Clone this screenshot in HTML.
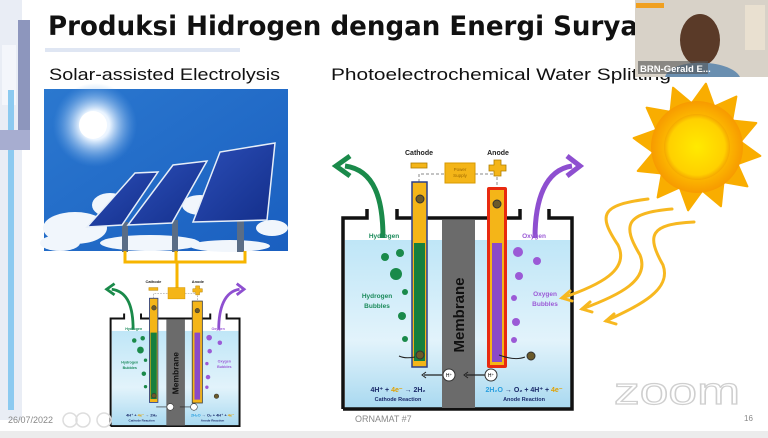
<!DOCTYPE html>
<html><head><meta charset="utf-8"><style>
html,body{margin:0;padding:0;background:#fff;}
svg{display:block;font-family:"Liberation Sans",sans-serif;}
</style></head><body>
<svg width="768" height="438" viewBox="0 0 768 438" xmlns="http://www.w3.org/2000/svg">
<defs>
<linearGradient id="water" x1="0" y1="0" x2="0" y2="1"><stop offset="0" stop-color="#bfe6f7"/><stop offset="0.6" stop-color="#e2f3fb"/><stop offset="1" stop-color="#a9d9f0"/></linearGradient>
<linearGradient id="sky" x1="0" y1="0" x2="1" y2="1"><stop offset="0" stop-color="#2b78cf"/><stop offset="1" stop-color="#1a5fc0"/></linearGradient>
<radialGradient id="sunglow" cx="0.5" cy="0.5" r="0.5"><stop offset="0" stop-color="#fff"/><stop offset="0.35" stop-color="#eaf4ff"/><stop offset="1" stop-color="#6aa6e6" stop-opacity="0"/></radialGradient>
<radialGradient id="suncore" cx="0.5" cy="0.5" r="0.5"><stop offset="0" stop-color="#ffea00"/><stop offset="0.85" stop-color="#ffd000"/><stop offset="1" stop-color="#f5a800"/></radialGradient>
<radialGradient id="sunbody" cx="0.5" cy="0.5" r="0.5"><stop offset="0.5" stop-color="#ffc800"/><stop offset="1" stop-color="#f79a00"/></radialGradient>
<linearGradient id="panel" x1="0" y1="0" x2="1" y2="1"><stop offset="0" stop-color="#2c4fb8"/><stop offset="1" stop-color="#132e8a"/></linearGradient>
</defs>

<!-- left decoration -->
<rect x="0" y="0" width="22" height="420" fill="#e9edf5"/>
<rect x="18" y="20" width="12" height="120" fill="#8d96bd"/>
<rect x="2" y="45" width="14" height="60" fill="#f4f6fb"/>
<rect x="8" y="90" width="6" height="320" fill="#8ccaf0"/>
<rect x="0" y="130" width="30" height="20" fill="#a7add0"/>

<!-- title -->
<text x="48" y="35" font-size="27" font-weight="bold" fill="#111" font-family="'DejaVu Sans','Liberation Sans',sans-serif" textLength="590" lengthAdjust="spacingAndGlyphs">Produksi Hidrogen dengan Energi Surya</text>
<rect x="45" y="48" width="195" height="4" fill="#dfe6f3"/>
<text x="49" y="80" font-size="17" fill="#111" textLength="231" lengthAdjust="spacingAndGlyphs">Solar-assisted Electrolysis</text>
<text x="331" y="80" font-size="17" fill="#111" textLength="340" lengthAdjust="spacingAndGlyphs">Photoelectrochemical Water Splitting</text>

<!-- solar image -->
<rect x="44" y="89" width="244" height="162" fill="url(#sky)"/>
<circle cx="95" cy="125" r="42" fill="url(#sunglow)"/>
<circle cx="93" cy="125" r="14" fill="#fff"/>
<g fill="#f1f6fc">
<ellipse cx="75" cy="228" rx="32" ry="16"/><ellipse cx="110" cy="205" rx="18" ry="12"/>
<ellipse cx="60" cy="243" rx="20" ry="8"/><ellipse cx="150" cy="243" rx="50" ry="8"/>
<ellipse cx="200" cy="205" rx="18" ry="10"/><ellipse cx="272" cy="228" rx="16" ry="8"/>
<ellipse cx="230" cy="246" rx="40" ry="6"/>
</g>
<g fill="#5a6d86"><rect x="122" y="222" width="6" height="30"/><rect x="172" y="220" width="6" height="32"/><rect x="237" y="218" width="7" height="34"/></g>
<polygon points="87,227 122,225 158,172 135,173" fill="url(#panel)" stroke="#e6eef8" stroke-width="1.5"/>
<polygon points="128,225 172,223 207,161 173,165" fill="url(#panel)" stroke="#e6eef8" stroke-width="1.5"/>
<polygon points="193,222 267,220 275,143 220,152" fill="url(#panel)" stroke="#e6eef8" stroke-width="1.5"/>

<!-- wires -->
<g stroke="#f7b500" stroke-width="3" fill="none">
<path d="M125 251 V262 H245 V251"/><path d="M176 251 V262"/><path d="M177 262 V293"/>
</g>

<!-- BIG CELL -->
<g>
<rect x="345" y="240" width="226" height="168" fill="url(#water)"/>
<path d="M343 409 V218 H367 V209 M397 209 V218 H520 V209 M549 209 V218 H572 V409 H343" stroke="#111" stroke-width="3.5" fill="none"/>
<rect x="442" y="220" width="33" height="188" fill="#6b6b6b"/>
<text transform="translate(464 315) rotate(-90)" text-anchor="middle" font-size="15" font-weight="bold" fill="#111">Membrane</text>
<path d="M383 238 C383 200 375 170 345 166" stroke="#1a8a4a" stroke-width="5" fill="none"/>
<path d="M350 156 L336 166 L350 176" stroke="#1a8a4a" stroke-width="5" fill="none"/>
<path d="M535 238 C535 200 545 170 572 166" stroke="#8e4fd0" stroke-width="5" fill="none"/>
<path d="M567 156 L580 166 L567 176" stroke="#8e4fd0" stroke-width="5" fill="none"/>
<path d="M419 182 V174 H445 M475 174 H497 V187" stroke="#888" stroke-width="1" stroke-dasharray="3,2" fill="none"/>
<rect x="445" y="163" width="30" height="20" fill="#f4b518" stroke="#d99a00"/>
<text x="460" y="171" font-size="4.5" fill="#a06a00" text-anchor="middle">Power</text>
<text x="460" y="177" font-size="4.5" fill="#a06a00" text-anchor="middle">Supply</text>
<text x="419" y="155" font-size="7" font-weight="bold" fill="#222" text-anchor="middle">Cathode</text>
<text x="498" y="155" font-size="7" font-weight="bold" fill="#222" text-anchor="middle">Anode</text>
<rect x="411" y="163" width="16" height="5" fill="#f4b518" stroke="#b07e00" stroke-width="0.8"/>
<path d="M494 160 h7 v5 h5 v6 h-5 v5 h-7 v-5 h-5 v-6 h5z" fill="#f4b518" stroke="#b07e00" stroke-width="0.8"/>
<rect x="412" y="182" width="15" height="185" fill="#f4b518" stroke="#2a3f8a" stroke-width="1.5"/>
<rect x="414" y="243" width="11" height="118" fill="#167f3e"/>
<rect x="487" y="187" width="20" height="181" rx="2" fill="#e82a10"/>
<rect x="490" y="190" width="14" height="175" fill="#f4b518"/>
<rect x="492" y="243" width="10" height="119" fill="#8a4ac8"/>
<circle cx="420" cy="199" r="4" fill="#6b5a2a" stroke="#333"/><circle cx="420" cy="355" r="4" fill="#6b5a2a" stroke="#333"/>
<circle cx="497" cy="204" r="4" fill="#6b5a2a" stroke="#333"/><circle cx="531" cy="356" r="4" fill="#6b5a2a" stroke="#333"/>
<path d="M415 357 q-10 2 -16 -1 M525 357 q-10 4 -26 -2" stroke="#222" fill="none"/>
<text x="384" y="238" font-size="6.5" font-weight="bold" fill="#1a8a5a" text-anchor="middle">Hydrogen</text>
<text x="534" y="238" font-size="6.5" font-weight="bold" fill="#9b5ad6" text-anchor="middle">Oxygen</text>
<text x="377" y="298" font-size="6.5" font-weight="bold" fill="#1a8a5a" text-anchor="middle">Hydrogen</text>
<text x="377" y="308" font-size="6.5" font-weight="bold" fill="#1a8a5a" text-anchor="middle">Bubbles</text>
<text x="545" y="296" font-size="6.5" font-weight="bold" fill="#9b5ad6" text-anchor="middle">Oxygen</text>
<text x="545" y="306" font-size="6.5" font-weight="bold" fill="#9b5ad6" text-anchor="middle">Bubbles</text>
<g fill="#1a8a4a"><circle cx="385" cy="257" r="4"/><circle cx="400" cy="253" r="4"/><circle cx="396" cy="274" r="6"/><circle cx="405" cy="292" r="3"/><circle cx="402" cy="316" r="4"/><circle cx="405" cy="339" r="3"/></g>
<g fill="#9b5ad6"><circle cx="518" cy="252" r="5"/><circle cx="537" cy="261" r="4"/><circle cx="519" cy="276" r="4"/><circle cx="514" cy="298" r="3"/><circle cx="516" cy="322" r="4"/><circle cx="514" cy="340" r="3"/></g>
<path d="M485 375 H466 M442 375 H424" stroke="#222" stroke-width="1.2"/>
<path d="M468 372 l-4 3 l4 3 M426 372 l-4 3 l4 3" stroke="#222" fill="none"/>
<circle cx="449" cy="375" r="6" fill="#fff" stroke="#333"/><circle cx="491" cy="375" r="6" fill="#fff" stroke="#333"/>
<text x="449" y="377" font-size="5" text-anchor="middle">H⁺</text><text x="491" y="377" font-size="5" text-anchor="middle">H⁺</text>
<text x="398" y="392" font-size="7" font-weight="bold" fill="#1a2a6a" text-anchor="middle">4H⁺ + <tspan fill="#e0a000">4e⁻</tspan> → 2H₂</text>
<text x="398" y="401" font-size="5.5" font-weight="bold" fill="#1a2a6a" text-anchor="middle">Cathode Reaction</text>
<text x="524" y="392" font-size="7" font-weight="bold" fill="#1a2a6a" text-anchor="middle"><tspan fill="#2aa0e0">2H₂O</tspan> → O₂ + 4H⁺ + <tspan fill="#e0a000">4e⁻</tspan></text>
<text x="524" y="401" font-size="5.5" font-weight="bold" fill="#1a2a6a" text-anchor="middle">Anode Reaction</text>
</g>

<!-- SMALL CELL (scaled copy) -->
<g transform="translate(-82.5 195.8) scale(0.563)">
<rect x="345" y="240" width="226" height="168" fill="url(#water)"/>
<path d="M343 409 V218 H367 V209 M397 209 V218 H520 V209 M549 209 V218 H572 V409 H343" stroke="#111" stroke-width="3.5" fill="none"/>
<rect x="442" y="220" width="33" height="188" fill="#6b6b6b"/>
<text transform="translate(464 315) rotate(-90)" text-anchor="middle" font-size="15" font-weight="bold" fill="#111">Membrane</text>
<path d="M383 238 C383 200 375 170 345 166" stroke="#1a8a4a" stroke-width="5" fill="none"/>
<path d="M350 156 L336 166 L350 176" stroke="#1a8a4a" stroke-width="5" fill="none"/>
<path d="M535 238 C535 200 545 170 572 166" stroke="#8e4fd0" stroke-width="5" fill="none"/>
<path d="M567 156 L580 166 L567 176" stroke="#8e4fd0" stroke-width="5" fill="none"/>
<path d="M419 182 V174 H445 M475 174 H497 V187" stroke="#888" stroke-width="1" stroke-dasharray="3,2" fill="none"/>
<rect x="445" y="163" width="30" height="20" fill="#f4b518" stroke="#d99a00"/>
<text x="419" y="155" font-size="7" font-weight="bold" fill="#222" text-anchor="middle">Cathode</text>
<text x="498" y="155" font-size="7" font-weight="bold" fill="#222" text-anchor="middle">Anode</text>
<rect x="411" y="163" width="16" height="5" fill="#f4b518" stroke="#b07e00" stroke-width="0.8"/>
<path d="M494 160 h7 v5 h5 v6 h-5 v5 h-7 v-5 h-5 v-6 h5z" fill="#f4b518" stroke="#b07e00" stroke-width="0.8"/>
<rect x="412" y="182" width="15" height="185" fill="#f4b518" stroke="#2a3f8a" stroke-width="1.5"/>
<rect x="414" y="243" width="11" height="118" fill="#167f3e"/>
<rect x="488" y="187" width="18" height="181" fill="#f4b518" stroke="#444" stroke-width="1.5"/>
<rect x="492" y="243" width="10" height="119" fill="#8a4ac8"/>
<circle cx="420" cy="199" r="4" fill="#6b5a2a" stroke="#333"/><circle cx="420" cy="355" r="4" fill="#6b5a2a" stroke="#333"/>
<circle cx="497" cy="204" r="4" fill="#6b5a2a" stroke="#333"/><circle cx="531" cy="356" r="4" fill="#6b5a2a" stroke="#333"/>
<text x="384" y="238" font-size="6.5" font-weight="bold" fill="#1a8a5a" text-anchor="middle">Hydrogen</text>
<text x="534" y="238" font-size="6.5" font-weight="bold" fill="#9b5ad6" text-anchor="middle">Oxygen</text>
<text x="377" y="298" font-size="6.5" font-weight="bold" fill="#1a8a5a" text-anchor="middle">Hydrogen</text>
<text x="377" y="308" font-size="6.5" font-weight="bold" fill="#1a8a5a" text-anchor="middle">Bubbles</text>
<text x="545" y="296" font-size="6.5" font-weight="bold" fill="#9b5ad6" text-anchor="middle">Oxygen</text>
<text x="545" y="306" font-size="6.5" font-weight="bold" fill="#9b5ad6" text-anchor="middle">Bubbles</text>
<g fill="#1a8a4a"><circle cx="385" cy="257" r="4"/><circle cx="400" cy="253" r="4"/><circle cx="396" cy="274" r="6"/><circle cx="405" cy="292" r="3"/><circle cx="402" cy="316" r="4"/><circle cx="405" cy="339" r="3"/></g>
<g fill="#9b5ad6"><circle cx="518" cy="252" r="5"/><circle cx="537" cy="261" r="4"/><circle cx="519" cy="276" r="4"/><circle cx="514" cy="298" r="3"/><circle cx="516" cy="322" r="4"/><circle cx="514" cy="340" r="3"/></g>
<path d="M485 375 H466 M442 375 H424" stroke="#222" stroke-width="1.2"/>
<circle cx="449" cy="375" r="6" fill="#fff" stroke="#333"/><circle cx="491" cy="375" r="6" fill="#fff" stroke="#333"/>
<text x="398" y="392" font-size="7" font-weight="bold" fill="#1a2a6a" text-anchor="middle">4H⁺ + <tspan fill="#e0a000">4e⁻</tspan> → 2H₂</text>
<text x="398" y="401" font-size="5.5" font-weight="bold" fill="#1a2a6a" text-anchor="middle">Cathode Reaction</text>
<text x="524" y="392" font-size="7" font-weight="bold" fill="#1a2a6a" text-anchor="middle"><tspan fill="#2aa0e0">2H₂O</tspan> → O₂ + 4H⁺ + <tspan fill="#e0a000">4e⁻</tspan></text>
<text x="524" y="401" font-size="5.5" font-weight="bold" fill="#1a2a6a" text-anchor="middle">Anode Reaction</text>
</g>

<!-- sun -->
<g transform="translate(697 147) rotate(8)">
<polygon fill="#f9ad00" stroke="#f9ad00" stroke-width="2" stroke-linejoin="round" points="0,-64 11.4,-42.5 32,-55.4 31.1,-31.1 55.4,-32 42.5,-11.4 64,0 42.5,11.4 55.4,32 31.1,31.1 32,55.4 11.4,42.5 0,64 -11.4,42.5 -32,55.4 -31.1,31.1 -55.4,32 -42.5,11.4 -64,0 -42.5,-11.4 -55.4,-32 -31.1,-31.1 -32,-55.4 -11.4,-42.5"/>
<circle r="46" fill="url(#sunbody)"/>
<circle r="33" fill="url(#suncore)"/>
</g>
<!-- light waves -->
<g stroke="#f7b820" stroke-width="3" fill="none" stroke-linecap="round">
<path d="M648 199 C600 205 598 215 618 245 C630 270 600 285 562 298"/>
<path d="M672 209 C625 213 622 225 640 255 C650 280 620 295 582 309"/>
<path d="M694 222 C650 224 646 235 663 265 C672 290 640 305 606 321"/>
<path d="M570 291 l-8 7 l10 3 M590 302 l-8 7 l10 3 M614 314 l-8 7 l10 3"/>
</g>

<!-- webcam -->
<rect x="635" y="0" width="133" height="77" fill="#d8d2c8"/>
<rect x="636" y="3" width="28" height="5" fill="#f0a020"/>
<ellipse cx="700" cy="40" rx="20" ry="26" fill="#5a3a28"/>
<path d="M665 77 C670 58 730 58 740 77Z" fill="#6a8fb0"/>
<rect x="745" y="5" width="20" height="45" fill="#e9e0d0"/>
<rect x="638" y="61" width="70" height="13" fill="#555" opacity="0.6"/>
<text x="640" y="72" font-size="9.5" font-weight="bold" fill="#fff">BRN-Gerald E...</text>

<!-- footer -->
<text x="8" y="423" font-size="9" fill="#888">26/07/2022</text>
<g fill="none" stroke="#ddd" stroke-width="1.5"><circle cx="70" cy="420" r="7"/><circle cx="83" cy="420" r="7"/><circle cx="104" cy="420" r="7"/></g>
<text x="355" y="422" font-size="9" fill="#888">ORNAMAT #7</text>
<text x="744" y="421" font-size="8" fill="#888">16</text>
<text x="614" y="404" font-size="38" fill="#fff" stroke="#cfcfcf" stroke-width="1.2" textLength="126" lengthAdjust="spacingAndGlyphs">zoom</text>
<rect x="0" y="431" width="768" height="7" fill="#ececec"/>
</svg>
</body></html>
